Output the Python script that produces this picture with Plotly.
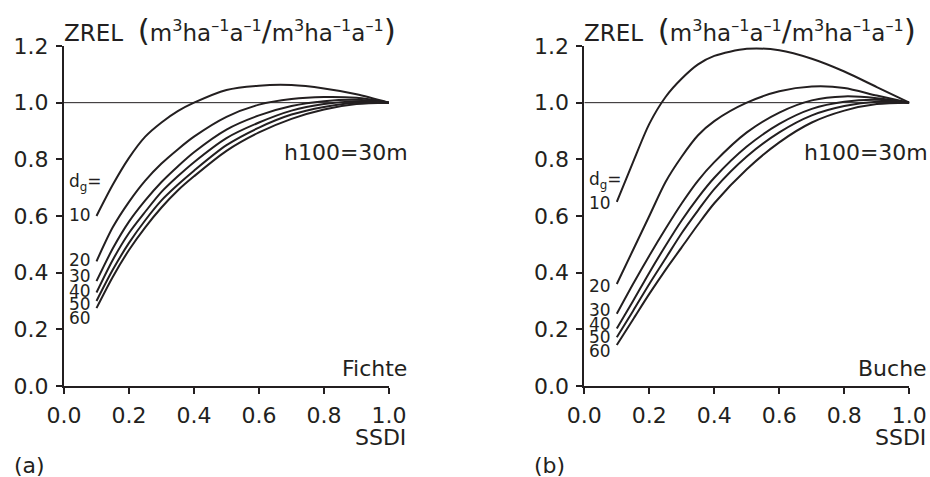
import plotly.graph_objects as go

W, H = 930, 477

ssdi = [0.1, 0.15, 0.2, 0.25, 0.3, 0.35, 0.4, 0.5, 0.6, 0.7, 0.8, 0.9, 1.0]

dg_classes = ["10", "20", "30", "40", "50", "60"]

fichte = {
    "10": [0.60, 0.71, 0.805, 0.88, 0.93, 0.97, 1.00, 1.045, 1.06, 1.062, 1.05, 1.03, 1.0],
    "20": [0.44, 0.56, 0.65, 0.725, 0.785, 0.835, 0.88, 0.95, 0.993, 1.013, 1.02, 1.017, 1.0],
    "30": [0.37, 0.485, 0.58, 0.655, 0.72, 0.775, 0.825, 0.905, 0.955, 0.988, 1.005, 1.01, 1.0],
    "40": [0.33, 0.445, 0.54, 0.615, 0.685, 0.74, 0.79, 0.875, 0.93, 0.972, 0.995, 1.005, 1.0],
    "50": [0.30, 0.41, 0.505, 0.585, 0.655, 0.71, 0.76, 0.85, 0.912, 0.958, 0.985, 1.0, 1.0],
    "60": [0.275, 0.385, 0.48, 0.56, 0.63, 0.69, 0.74, 0.83, 0.895, 0.943, 0.976, 0.995, 1.0],
}

buche = {
    "10": [0.65, 0.79, 0.925, 1.02, 1.085, 1.135, 1.165, 1.19, 1.185, 1.155, 1.11, 1.055, 1.0],
    "20": [0.36, 0.48, 0.60, 0.72, 0.81, 0.885, 0.935, 1.0, 1.04, 1.057, 1.052, 1.025, 1.0],
    "30": [0.255, 0.36, 0.46, 0.555, 0.645, 0.725, 0.79, 0.895, 0.965, 1.008, 1.022, 1.016, 1.0],
    "40": [0.203, 0.30, 0.40, 0.495, 0.585, 0.665, 0.735, 0.845, 0.925, 0.978, 1.003, 1.01, 1.0],
    "50": [0.172, 0.265, 0.36, 0.45, 0.54, 0.62, 0.695, 0.81, 0.895, 0.955, 0.988, 1.003, 1.0],
    "60": [0.145, 0.235, 0.325, 0.41, 0.49, 0.57, 0.645, 0.765, 0.86, 0.93, 0.972, 0.995, 1.0],
}

x_ticks = [0.0, 0.2, 0.4, 0.6, 0.8, 1.0]
y_ticks = [0.0, 0.2, 0.4, 0.6, 0.8, 1.0, 1.2]
ref_line = [1.0, 1.0]

FONT = "DejaVu Sans, Arial, sans-serif"
INK = "#231f20"


def px(x):
    return x / W


def py(y):
    return 1 - y / H


fig = go.Figure()

panels = [("x", "y", fichte), ("x2", "y2", buche)]
for xa, ya, data in panels:
    fig.add_trace(go.Scatter(x=[0.0, 1.0], y=ref_line, mode="lines", xaxis=xa, yaxis=ya,
                             line=dict(color=INK, width=1), showlegend=False, hoverinfo="skip"))
    for dg in dg_classes:
        fig.add_trace(go.Scatter(x=ssdi, y=data[dg], mode="lines", xaxis=xa, yaxis=ya,
                                 line=dict(color=INK, width=2, shape="spline", smoothing=0.8),
                                 cliponaxis=False, showlegend=False, name="dg=" + dg))

y_dom = [py(386), py(46)]
axis_common = dict(showgrid=False, zeroline=False, showline=True, linecolor=INK, linewidth=2,
                   ticks="outside", ticklen=6, tickwidth=2, tickcolor=INK, automargin=False,
                   ticklabelstandoff=3,
                   tickfont=dict(family=FONT, size=22, color=INK))

fig.update_layout(
    width=W, height=H, margin=dict(l=0, r=0, t=0, b=0),
    paper_bgcolor="white", plot_bgcolor="white",
    xaxis=dict(domain=[px(64), px(389)], range=[0, 1], tickvals=x_ticks,
               ticktext=[f"{v:.1f}" for v in x_ticks], anchor="y", **axis_common),
    yaxis=dict(domain=y_dom, range=[0, 1.2], tickvals=y_ticks,
               ticktext=[f"{v:.1f}" for v in y_ticks], anchor="x", **axis_common),
    xaxis2=dict(domain=[px(584.3), px(909.3)], range=[0, 1], tickvals=x_ticks,
                ticktext=[f"{v:.1f}" for v in x_ticks], anchor="y2", **axis_common),
    yaxis2=dict(domain=y_dom, range=[0, 1.2], tickvals=y_ticks,
                ticktext=[f"{v:.1f}" for v in y_ticks], anchor="x2", **axis_common),
)

ylabel = ("ZREL  <span style='font-size:31px'>(</span>m<sup>3</sup>ha<sup>–1</sup>a<sup>–1</sup>"
          "<span style='font-size:29px'>/</span>m<sup>3</sup>ha<sup>–1</sup>a<sup>–1</sup>"
          "<span style='font-size:31px'>)</span>")

ann = []


def add(text, x, y, size=22, xanchor="left"):
    ann.append(dict(text=text, x=px(x), y=py(y), xref="paper", yref="paper",
                    xanchor=xanchor, yanchor="middle", showarrow=False,
                    font=dict(family=FONT, size=size, color=INK)))


for off, lab, species, lab_y in [
    (0, "(a)", "Fichte", [215, 260, 276, 291, 304, 318]),
    (520.3, "(b)", "Buche", [203, 286, 310, 324, 337, 351]),
]:
    add(ylabel, 62 + off, 30, size=23)
    add("h100=30m", 410 + off, 153, xanchor="right")
    add(species, 409 + off, 368, xanchor="right")
    add("SSDI", 408 + off, 437, xanchor="right")
    add(lab, 12 + off, 465)
    dg_y = 182 if off == 0 else 180
    add("d<sub>g</sub>=", 67 + off, dg_y, size=17)
    for dg, yy in zip(dg_classes, lab_y):
        add(dg, 67 + off, yy, size=17)

fig.update_layout(annotations=ann)

fig.write_html(
    "out.html",
    config={"displayModeBar": False},
    post_script="document.documentElement.style.margin='0';document.body.style.margin='0';"
                "document.body.style.overflow='hidden';",
)
